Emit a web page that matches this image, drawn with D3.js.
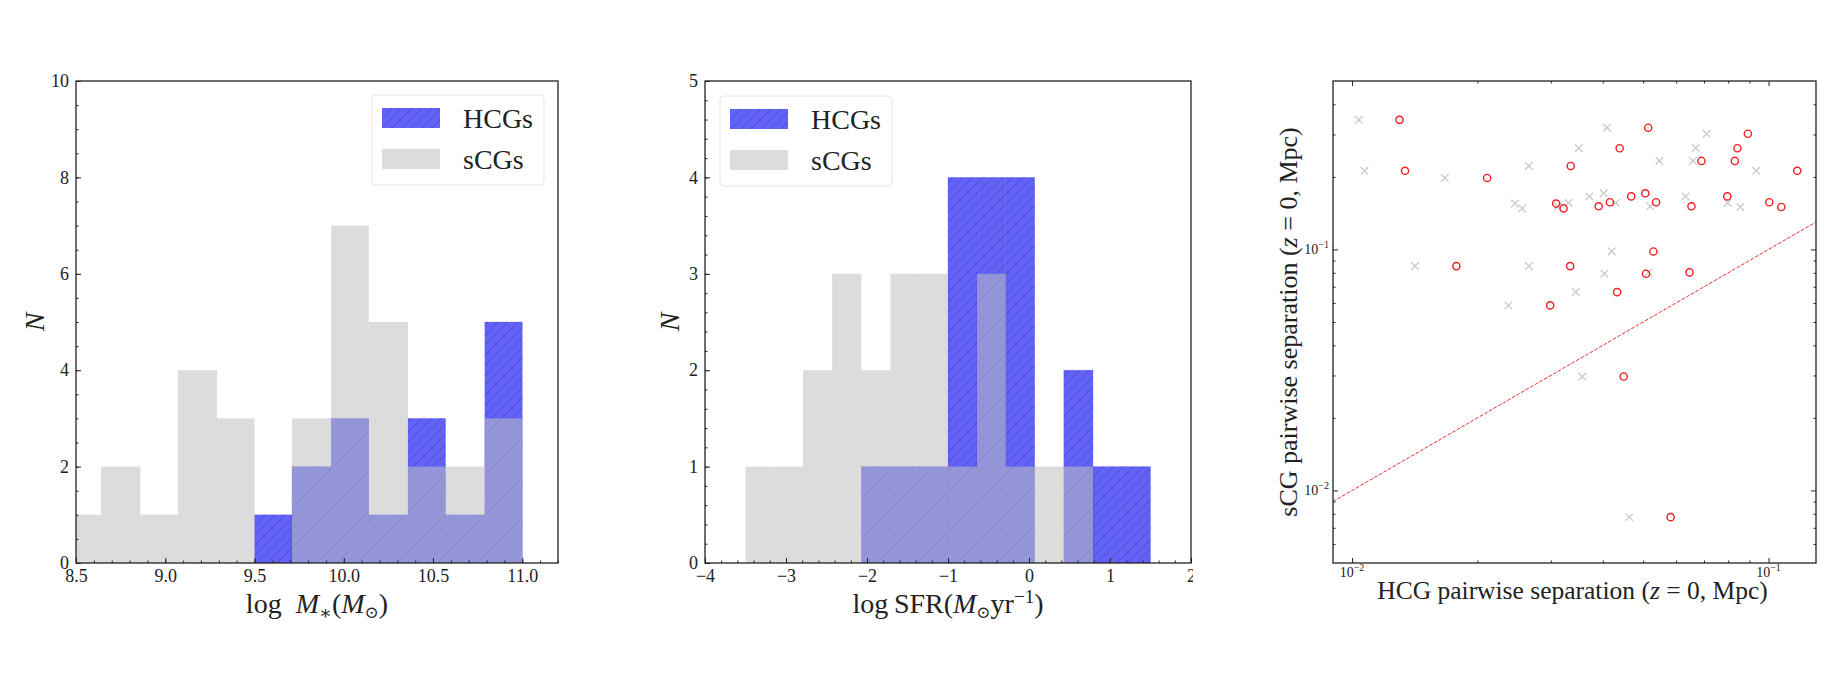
<!DOCTYPE html>
<html>
<head>
<meta charset="utf-8">
<script src="https://cdn.jsdelivr.net/npm/d3@7"></script>
<style>
    body { margin: 0; background: #fff; }
    svg text { font-family: "Liberation Serif", "DejaVu Serif", serif; fill: #222; }
</style>
</head>
<body>
<svg id="fig" width="1832" height="698"></svg>
<script>
// ---- data ----
var massEdges = [8.43, 8.64, 8.86, 9.07, 9.29, 9.50, 9.71, 9.93, 10.14, 10.36, 10.57, 10.79, 11.00];
var massSCG   = [1, 2, 1, 4, 3, 0, 3, 7, 5, 2, 2, 3];
var massHCG   = [0, 0, 0, 0, 0, 1, 2, 3, 1, 3, 1, 5];
var massXTicks = [8.5, 9.0, 9.5, 10.0, 10.5, 11.0];
var massYTicks = [0, 2, 4, 6, 8, 10];

var sfrEdges = [-3.50, -3.14, -2.79, -2.43, -2.07, -1.71, -1.36, -1.00, -0.64, -0.29, 0.07, 0.43, 0.79, 1.14, 1.50];
var sfrSCG   = [1, 1, 2, 3, 2, 3, 3, 1, 3, 1, 1, 1, 0, 0];
var sfrHCG   = [0, 0, 0, 0, 1, 1, 1, 4, 4, 4, 0, 2, 1, 1];
var sfrXTicks = [-4, -3, -2, -1, 0, 1, 2];
var sfrYTicks = [0, 1, 2, 3, 4, 5];

// red circles
var circleX = [0.0130, 0.0134, 0.0211, 0.0335, 0.0309, 0.0322, 0.0178, 0.0334, 0.0299, 0.0514,
               0.0892, 0.0439, 0.0842, 0.0690, 0.0830, 0.1172, 0.0391, 0.0416, 0.0468, 0.0506,
               0.0537, 0.0653, 0.0796, 0.1004, 0.1073, 0.0529, 0.0508, 0.0646, 0.0433, 0.0449, 0.0582];
var circleY = [0.345, 0.212, 0.198, 0.222, 0.155, 0.148, 0.0853, 0.0853, 0.0586, 0.320,
               0.302, 0.263, 0.263, 0.233, 0.233, 0.212, 0.151, 0.157, 0.166, 0.171,
               0.157, 0.151, 0.166, 0.157, 0.150, 0.0981, 0.0793, 0.0803, 0.0665, 0.0297, 0.00775];
// grey crosses
var crossX = [0.01038, 0.01071, 0.0167, 0.02657, 0.0246, 0.02561, 0.01416, 0.02657, 0.02374, 0.04095,
              0.0710, 0.03501, 0.0668, 0.0547, 0.0658, 0.0934, 0.0312, 0.0331, 0.03713, 0.0402,
              0.04298, 0.05198, 0.0632, 0.0798, 0.0856, 0.04202, 0.04035, 0.0515, 0.03443, 0.0357, 0.0463];
var crossY = [0.345, 0.212, 0.198, 0.222, 0.155, 0.148, 0.0853, 0.0853, 0.0586, 0.320,
              0.302, 0.263, 0.263, 0.233, 0.233, 0.212, 0.151, 0.156, 0.166, 0.171,
              0.156, 0.151, 0.166, 0.156, 0.150, 0.0981, 0.0793, 0.0803, 0.0665, 0.0297, 0.00775];
var oneToOne = [0.009, 0.13];

var logXTicks = [0.01, 0.1];
var logYTicks = [0.01, 0.1];
var logTickLabels = {"0.01": "\u22122", "0.1": "\u22121"};

var svg = d3.select("#fig");
svg.append("rect").attr("width", 1832).attr("height", 698).attr("fill", "#fff");

var defs = svg.append("defs");
var pat = defs.append("pattern").attr("id", "hatch")
    .attr("patternUnits", "userSpaceOnUse").attr("width", 10).attr("height", 10);
pat.append("path").attr("d", "M-1,1 L1,-1 M0,10 L10,0 M9,11 L11,9")
    .attr("stroke", "#30308c").attr("stroke-opacity", 0.5).attr("stroke-width", 0.9);

var TOP = 81, BOTTOM = 563;
var BLUE = "#6262f8", GREY = "#c0c0c0", GREY_OP = 0.55;
var TICK_FS = 18;

function styleAxis(g, size) {
    g.select(".domain").remove();
    g.attr("font-family", null).attr("font-size", size);
    g.selectAll("line").attr("stroke", "#222").attr("stroke-width", 1);
    g.selectAll("text").attr("fill", "#2a2a2a");
}

function minorRange(a, b, step) {
    var out = [];
    for (var v = a; v <= b + 1e-9; v += step) out.push(+v.toFixed(4));
    return out;
}

function frame(x0, x1) {
    svg.append("rect").attr("x", x0).attr("y", TOP)
        .attr("width", x1 - x0).attr("height", BOTTOM - TOP)
        .attr("fill", "none").attr("stroke", "#222").attr("stroke-width", 1.3);
}

function legend(bx, by, bw, bh) {
    var lg = svg.append("g");
    lg.append("rect").attr("x", bx).attr("y", by).attr("width", bw).attr("height", bh)
        .attr("rx", 4).attr("fill", "#fff").attr("fill-opacity", 0.8)
        .attr("stroke", "#e4e4e4").attr("stroke-width", 1);
    var px = bx + 10, pw = 58;
    lg.append("rect").attr("x", px).attr("y", by + 13).attr("width", pw).attr("height", 20).attr("fill", BLUE);
    lg.append("rect").attr("x", px).attr("y", by + 13).attr("width", pw).attr("height", 20).attr("fill", "url(#hatch)");
    lg.append("rect").attr("x", px).attr("y", by + 54).attr("width", pw).attr("height", 20)
        .attr("fill", GREY).attr("fill-opacity", GREY_OP);
    lg.append("text").attr("x", bx + 91).attr("y", by + 33).attr("font-size", 28).text("HCGs");
    lg.append("text").attr("x", bx + 91).attr("y", by + 74).attr("font-size", 28).text("sCGs");
}

function histPanel(p) {
    var x = d3.scaleLinear().domain(p.xDomain).range([p.x0, p.x1]);
    var y = d3.scaleLinear().domain(p.yDomain).range([BOTTOM, TOP]);

    defs.append("clipPath").attr("id", p.id + "-clip")
        .append("rect").attr("x", p.x0).attr("y", TOP).attr("width", p.x1 - p.x0).attr("height", BOTTOM - TOP);

    var bins = p.edges.slice(0, -1).map(function(e, i) {
        return {x0: e, x1: p.edges[i + 1], hcg: p.hcg[i], scg: p.scg[i]};
    });
    var plot = svg.append("g").attr("clip-path", "url(#" + p.id + "-clip)");

    var hb = bins.filter(function(d) { return d.hcg > 0; });
    plot.selectAll(".hcg").data(hb).enter().append("rect")
        .attr("x", function(d) { return x(d.x0); })
        .attr("width", function(d) { return x(d.x1) - x(d.x0); })
        .attr("y", function(d) { return y(d.hcg); })
        .attr("height", function(d) { return y(0) - y(d.hcg); })
        .attr("fill", BLUE).attr("stroke", "#4a4ad8").attr("stroke-opacity", 0.4).attr("stroke-width", 0.6);
    plot.selectAll(".hatch").data(hb).enter().append("rect")
        .attr("x", function(d) { return x(d.x0); })
        .attr("width", function(d) { return x(d.x1) - x(d.x0); })
        .attr("y", function(d) { return y(d.hcg); })
        .attr("height", function(d) { return y(0) - y(d.hcg); })
        .attr("fill", "url(#hatch)");
    plot.selectAll(".scg").data(bins.filter(function(d) { return d.scg > 0; })).enter().append("rect")
        .attr("x", function(d) { return x(d.x0); })
        .attr("width", function(d) { return x(d.x1) - x(d.x0); })
        .attr("y", function(d) { return y(d.scg); })
        .attr("height", function(d) { return y(0) - y(d.scg); })
        .attr("fill", GREY).attr("fill-opacity", GREY_OP);

    // ticks (inward, left + bottom only)
    var bx = svg.append("g").attr("transform", "translate(0," + BOTTOM + ")")
        .call(d3.axisBottom(x).tickValues(p.xTicks).tickFormat(p.xFormat).tickSize(-5).tickPadding(6));
    styleAxis(bx, TICK_FS);
    if (p.clipLabels) {
        // the last label is cut at the panel edge in the original
        defs.append("clipPath").attr("id", p.id + "-lab")
            .append("rect").attr("x", p.x0 - 60).attr("y", -10).attr("width", p.x1 - p.x0 + 62).attr("height", 50);
        bx.attr("clip-path", "url(#" + p.id + "-lab)");
    }
    var bxm = svg.append("g").attr("transform", "translate(0," + BOTTOM + ")")
        .call(d3.axisBottom(x).tickValues(p.xMinor).tickFormat("").tickSize(-2.5));
    styleAxis(bxm, TICK_FS);
    var ly = svg.append("g").attr("transform", "translate(" + p.x0 + ",0)")
        .call(d3.axisLeft(y).tickValues(p.yTicks).tickFormat(d3.format("d")).tickSize(-5).tickPadding(7));
    styleAxis(ly, TICK_FS);
    var lym = svg.append("g").attr("transform", "translate(" + p.x0 + ",0)")
        .call(d3.axisLeft(y).tickValues(p.yMinor).tickFormat("").tickSize(-2.5));
    styleAxis(lym, TICK_FS);

    frame(p.x0, p.x1);

    svg.append("text").attr("transform", "translate(" + p.yLabelX + "," + (TOP + BOTTOM) / 2 + ") rotate(-90)")
        .attr("text-anchor", "middle").attr("font-size", 28).attr("font-style", "italic").text("N");

    var t = svg.append("text").attr("x", (p.x0 + p.x1) / 2).attr("y", 613)
        .attr("text-anchor", "middle").attr("font-size", 28);
    p.xLabel(t);
}

histPanel({
    id: "mass", x0: 76, x1: 558, xDomain: [8.5, 11.2], yDomain: [0, 10],
    edges: massEdges, scg: massSCG, hcg: massHCG,
    xTicks: massXTicks, xFormat: d3.format(".1f"), xMinor: minorRange(8.6, 11.2, 0.1),
    yTicks: massYTicks, yMinor: minorRange(0.5, 9.5, 0.5),
    yLabelX: 44,
    xLabel: function(t) {
        t.append("tspan").text("log\u2002");
        t.append("tspan").attr("font-style", "italic").text("M");
        t.append("tspan").attr("font-size", 19).attr("dy", 6).text("\u2217");
        t.append("tspan").attr("dy", -6).text("(");
        t.append("tspan").attr("font-style", "italic").text("M");
        t.append("tspan").attr("font-size", 17).attr("dy", 5).text("\u2299");
        t.append("tspan").attr("dy", -5).text(")");
    }
});
legend(372, 95, 172, 90);

histPanel({
    id: "sfr", x0: 705, x1: 1191, xDomain: [-4, 2], yDomain: [0, 5],
    edges: sfrEdges, scg: sfrSCG, hcg: sfrHCG,
    xTicks: sfrXTicks, xFormat: d3.format("d"), xMinor: minorRange(-3.8, 1.8, 0.2),
    yTicks: sfrYTicks, yMinor: minorRange(0.2, 4.8, 0.2),
    clipLabels: true,
    yLabelX: 679,
    xLabel: function(t) {
        t.append("tspan").text("log\u2009SFR(");
        t.append("tspan").attr("font-style", "italic").text("M");
        t.append("tspan").attr("font-size", 17).attr("dy", 5).text("\u2299");
        t.append("tspan").attr("dy", -5).text("yr");
        t.append("tspan").attr("font-size", 19).attr("dy", -10).text("\u22121");
        t.append("tspan").attr("dy", 10).text(")");
    }
});
legend(720, 96, 172, 90);

// ---- scatter panel ----
var SX0 = 1333, SX1 = 1816;
var xs = d3.scaleLog().domain([0.009, 0.13]).range([SX0, SX1]);
var ys = d3.scaleLog().domain([0.005, 0.5]).range([BOTTOM, TOP]);

var xMinorLog = [0.02, 0.03, 0.04, 0.05, 0.06, 0.07, 0.08, 0.09];
var yMinorLog = [0.006, 0.007, 0.008, 0.009, 0.02, 0.03, 0.04, 0.05, 0.06, 0.07, 0.08, 0.09, 0.2, 0.3, 0.4];

[["bottom", BOTTOM], ["top", TOP]].forEach(function(s) {
    var mk = s[0] === "bottom" ? d3.axisBottom : d3.axisTop;
    var g1 = svg.append("g").attr("transform", "translate(0," + s[1] + ")")
        .call(mk(xs).tickValues(logXTicks).tickFormat("").tickSize(-5));
    styleAxis(g1, 14);
    var g2 = svg.append("g").attr("transform", "translate(0," + s[1] + ")")
        .call(mk(xs).tickValues(xMinorLog).tickFormat("").tickSize(-2.5));
    styleAxis(g2, 14);
});
[["left", SX0], ["right", SX1]].forEach(function(s) {
    var mk = s[0] === "left" ? d3.axisLeft : d3.axisRight;
    var g1 = svg.append("g").attr("transform", "translate(" + s[1] + ",0)")
        .call(mk(ys).tickValues(logYTicks).tickFormat("").tickSize(-5));
    styleAxis(g1, 14);
    var g2 = svg.append("g").attr("transform", "translate(" + s[1] + ",0)")
        .call(mk(ys).tickValues(yMinorLog).tickFormat("").tickSize(-2.5));
    styleAxis(g2, 14);
});

function powLabel(sel, v) {
    sel.append("tspan").text("10");
    sel.append("tspan").attr("font-size", 10).attr("dy", -6).text(logTickLabels[String(v)]);
}
logXTicks.forEach(function(v) {
    var t = svg.append("text").attr("x", xs(v)).attr("y", 577).attr("text-anchor", "middle")
        .attr("font-size", 14).attr("fill", "#444");
    powLabel(t, v);
});
logYTicks.forEach(function(v) {
    var t = svg.append("text").attr("x", SX0 - 4).attr("y", ys(v) + 5).attr("text-anchor", "end")
        .attr("font-size", 14).attr("fill", "#444");
    powLabel(t, v);
});

defs.append("clipPath").attr("id", "sc-clip")
    .append("rect").attr("x", SX0).attr("y", TOP).attr("width", SX1 - SX0).attr("height", BOTTOM - TOP);
var sp = svg.append("g").attr("clip-path", "url(#sc-clip)");

var crosses = crossX.map(function(v, i) { return {x: v, y: crossY[i]}; });
var circles = circleX.map(function(v, i) { return {x: v, y: circleY[i]}; });

sp.selectAll(".cross").data(crosses).enter().append("path")
    .attr("transform", function(d) { return "translate(" + xs(d.x) + "," + ys(d.y) + ")"; })
    .attr("d", "M-3.8,-3.8L3.8,3.8M-3.8,3.8L3.8,-3.8")
    .attr("stroke", "#c6c6c6").attr("stroke-width", 1.2).attr("fill", "none");

sp.append("line")
    .attr("x1", xs(oneToOne[0])).attr("y1", ys(oneToOne[0]))
    .attr("x2", xs(oneToOne[1])).attr("y2", ys(oneToOne[1]))
    .attr("stroke", "#f03030").attr("stroke-width", 1).attr("stroke-dasharray", "3.7,1.6");

sp.selectAll(".circ").data(circles).enter().append("circle")
    .attr("cx", function(d) { return xs(d.x); })
    .attr("cy", function(d) { return ys(d.y); })
    .attr("r", 3.6).attr("fill", "none").attr("stroke", "#f01e1e").attr("stroke-width", 1.4);

frame(SX0, SX1);

function sepLabel(t, prefix) {
    t.append("tspan").text(prefix + " pairwise separation (");
    t.append("tspan").attr("font-style", "italic").text("z");
    t.append("tspan").text(" = 0, Mpc)");
}
sepLabel(svg.append("text").attr("x", (SX0 + SX1) / 2 - 2).attr("y", 599)
    .attr("text-anchor", "middle").attr("font-size", 25.5), "HCG");
sepLabel(svg.append("text").attr("transform", "translate(1297," + (TOP + BOTTOM) / 2 + ") rotate(-90)")
    .attr("text-anchor", "middle").attr("font-size", 26), "sCG");
</script>
</body>
</html>
